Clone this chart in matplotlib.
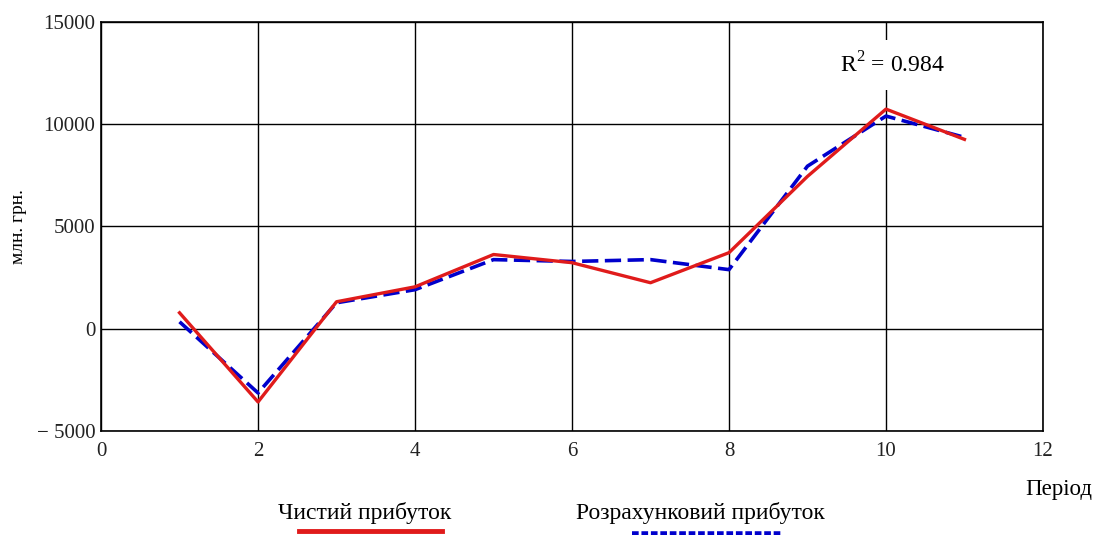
import numpy as np
import matplotlib.pyplot as plt
from matplotlib.lines import Line2D

# Period index
periods = [1, 2, 3, 4, 5, 6, 7, 8, 9, 10, 11]
# Actual net profit, mln UAH
net_profit = [780, -3580, 1320, 2050, 3630, 3230, 2250, 3720, 7450, 10740, 9260]
# Model (estimated) profit, mln UAH
calc_profit = [340, -3140, 1270, 1910, 3380, 3290, 3380, 2890, 7950, 10400, 9360]

x_ticks = [0, 2, 4, 6, 8, 10, 12]
y_ticks = [-5000, 0, 5000, 10000, 15000]
y_tick_labels = ['\u2212 5000', '0', '5000', '10000', '15000']
r2_value = 0.984

plt.rcParams['font.family'] = ['Liberation Serif', 'DejaVu Serif']
plt.rcParams['mathtext.fontset'] = 'custom'
plt.rcParams['mathtext.rm'] = 'Liberation Serif'

fig = plt.figure(figsize=(10.96, 5.35), dpi=100)
ax = fig.add_axes([0.0922, 0.1944, 0.8594, 0.7645])

ax.plot(periods, calc_profit, color='#0000cc', lw=2.6, ls=(0, (4.5, 1.8)), zorder=3)
ax.plot(periods, net_profit, color='#e01b1b', lw=2.4, zorder=4)

ax.set_xlim(0, 12)
ax.set_ylim(-5000, 15000)
ax.set_xticks(x_ticks)
ax.set_yticks(y_ticks)
ax.set_yticklabels(y_tick_labels)
ax.tick_params(length=0, labelsize=15, colors='#222222')
ax.tick_params(axis='y', pad=4)
ax.tick_params(axis='x', pad=8)
ax.grid(True, color='black', lw=1.0)
ax.set_axisbelow(True)
for sp in ax.spines.values():
    sp.set_linewidth(1.2)

ax.set_ylabel('млн. грн.', fontsize=14, labelpad=7)

ax.text(10.08, 12900, f'R$^{{2}}$ = {r2_value}', fontsize=17, ha='center', va='center',
        bbox=dict(facecolor='white', edgecolor='none', pad=9), zorder=5)

fig.text(0.997, 0.085, 'Період', fontsize=16.5, ha='right', va='center')

# legend-like labels below the axes
fig.text(0.333, 0.042, 'Чистий прибуток', fontsize=17, ha='center', va='center')
fig.text(0.639, 0.042, 'Розрахунковий прибуток', fontsize=17, ha='center', va='center')
fig.add_artist(Line2D([0.273, 0.403], [0.008, 0.008], color='#e01b1b', lw=3.5,
                      transform=fig.transFigure))
fig.add_artist(Line2D([0.577, 0.714], [0.002, 0.002], color='#0000cc', lw=4,
                      ls=(0, (1.2, 0.5)), transform=fig.transFigure))

fig.savefig('out.png', dpi=100)
